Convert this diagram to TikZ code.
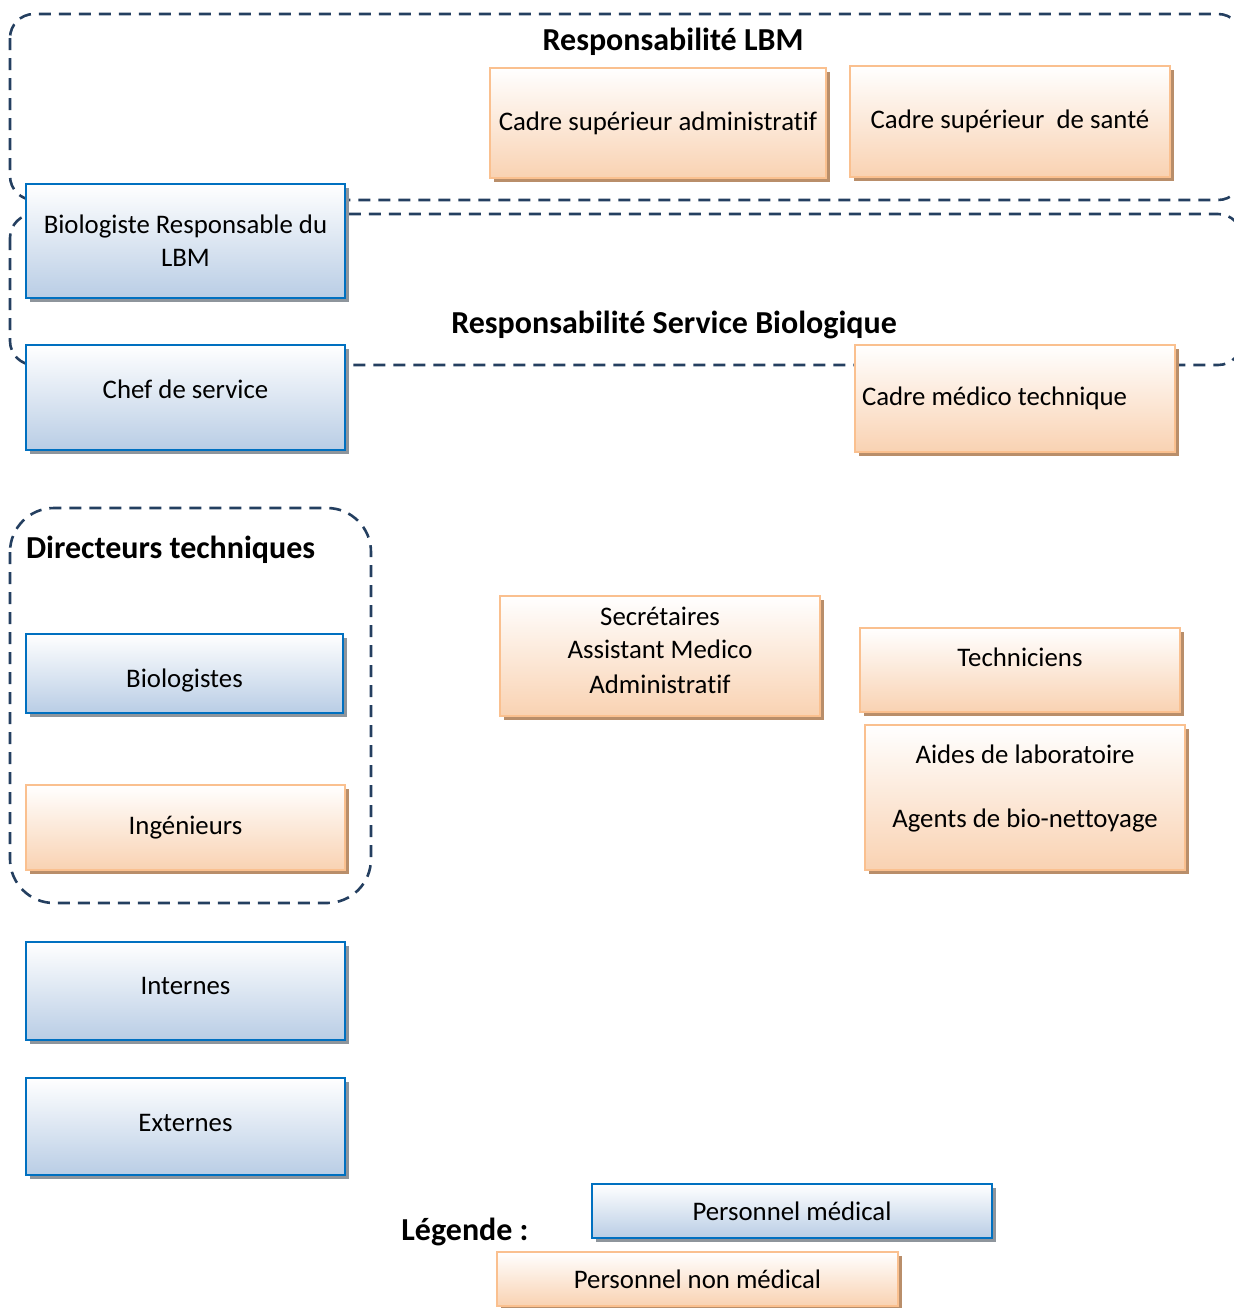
\documentclass[tikz,border=0pt]{standalone}
\usepackage{fontspec}
\setmainfont{Carlito}[Ligatures=NoCommon]
\usetikzlibrary{shadows}

\definecolor{frameblue}{HTML}{243F60}
\definecolor{medline}{HTML}{0070C0}
\definecolor{medfill}{HTML}{B9CDE5}
\definecolor{medshadow}{HTML}{8E959C}
\definecolor{nonmedline}{HTML}{FAC08F}
\definecolor{nonmedfill}{HTML}{F9D2B2}
\definecolor{nonmedshadow}{HTML}{B98E6A}

\begin{document}
\begin{tikzpicture}[x=0.5pt,y=-0.5pt,
    frame/.style={draw=frameblue, line width=1.3pt, dash pattern=on 6pt off 4pt},
    medbox/.style={draw=medline, line width=1.4pt, top color=white, bottom color=medfill,
        inner sep=2pt, align=center, font=\fontsize{13.4}{16.5}\selectfont,
        drop shadow={shadow xshift=2pt, shadow yshift=-2pt, fill=medshadow, opacity=1}},
    nonmedbox/.style={draw=nonmedline, line width=1.4pt, top color=white, bottom color=nonmedfill,
        inner sep=2pt, align=center, font=\fontsize{13.4}{16.5}\selectfont,
        drop shadow={shadow xshift=2pt, shadow yshift=-2pt, fill=nonmedshadow, opacity=1}},
    title/.style={font=\fontsize{16}{19}\selectfont\bfseries}]

    \useasboundingbox (0,0) rectangle (1234,1308);

    % dashed frames
    \draw[frame, rounded corners=12pt] (10,14) rectangle (1242,200);
    \draw[frame, rounded corners=12pt] (10,214) rectangle (1242,365);
    \draw[frame, rounded corners=22pt] (10,508) rectangle (371,903);

    \node[title] (tlbm) at (673,42) {Responsabilité LBM};
    \node[title] (tsb) at (674,325) {Responsabilité Service Biologique};
    \node[title, anchor=west] (tdt) at (19,550) {Directeurs techniques};

    % responsabilite LBM
    \node[nonmedbox, minimum width=168pt, minimum height=55pt] (csa) at (658,123) {Cadre supérieur administratif};
    \node[nonmedbox, minimum width=160pt, minimum height=55.5pt] (css) at (1010,121.5) {Cadre supérieur\ \ de santé};

    % left column
    \node[medbox, minimum width=159.5pt, minimum height=57pt] (brl) at (185.5,241) {Biologiste Responsable du\\LBM};
    \node[medbox, minimum width=159.5pt, minimum height=52.5pt, text depth=8pt] (chef) at (185.5,397.5) {Chef de service};
    \node[medbox, minimum width=158.5pt, minimum height=39.5pt, text height=16pt] (bio) at (184.5,673.5) {Biologistes};
    \node[nonmedbox, minimum width=159.5pt, minimum height=42.5pt] (ing) at (185.5,827.5) {Ingénieurs};
    \node[medbox, minimum width=159.5pt, minimum height=49pt, text depth=5pt] (int) at (185.5,991) {Internes};
    \node[medbox, minimum width=159.5pt, minimum height=48.5pt, text depth=4pt] (ext) at (185.5,1126.5) {Externes};

    % right part
    \node[nonmedbox, minimum width=160pt, minimum height=53.5pt, text width=153pt, align=flush left] (cmt) at (1015,398.5) {Cadre médico technique};
    \node[nonmedbox, minimum width=160pt, minimum height=60pt, text depth=6pt] (sec) at (660,656) {Secrétaires\\Assistant Medico\\[1pt]Administratif};
    \node[nonmedbox, minimum width=160pt, minimum height=42pt, text depth=13pt] (tech) at (1020,670) {Techniciens};
    \node[nonmedbox, minimum width=160pt, minimum height=72.5pt, text depth=11pt] (aides) at (1025,797.5) {Aides de laboratoire\\[15.5pt]Agents de bio-nettoyage};

    % legende
    \node[title] (leg) at (465,1232) {Légende :};
    \node[medbox, minimum width=200pt, minimum height=27pt] (lmed) at (792,1211) {Personnel médical};
    \node[nonmedbox, minimum width=200.5pt, minimum height=27pt] (lnon) at (697.5,1279) {Personnel non médical};

\end{tikzpicture}
\end{document}
